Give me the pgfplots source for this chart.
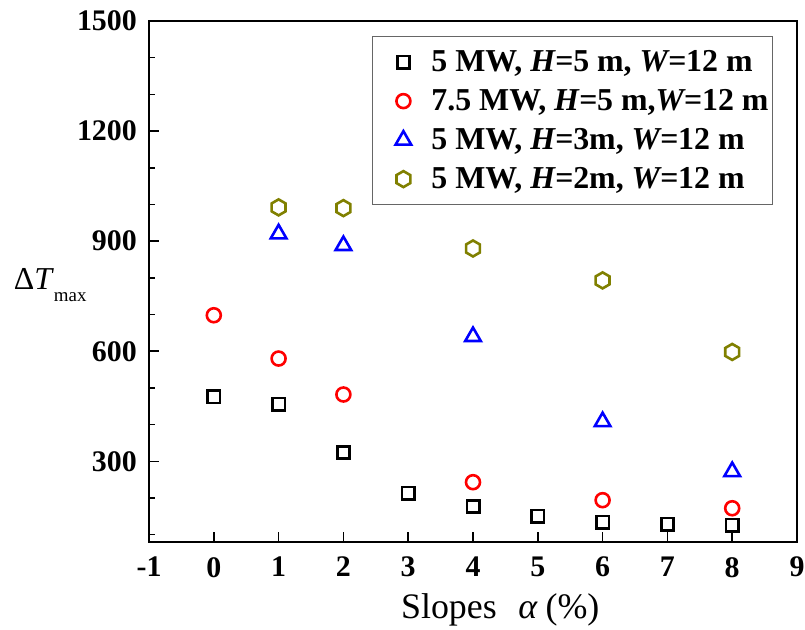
\documentclass[border=0pt]{standalone}
\usepackage{fontspec}
\setmainfont{Liberation Serif}
\usepackage{pgfplots}
\pgfplotsset{compat=1.18}
\usetikzlibrary{plotmarks}

\definecolor{olivemk}{RGB}{128,128,0}

% hexagon with a vertex at the top
\pgfdeclareplotmark{hexagon}{%
  \pgfpathmoveto{\pgfpointpolar{90}{\pgfplotmarksize}}%
  \pgfpathlineto{\pgfpointpolar{150}{\pgfplotmarksize}}%
  \pgfpathlineto{\pgfpointpolar{210}{\pgfplotmarksize}}%
  \pgfpathlineto{\pgfpointpolar{270}{\pgfplotmarksize}}%
  \pgfpathlineto{\pgfpointpolar{330}{\pgfplotmarksize}}%
  \pgfpathlineto{\pgfpointpolar{30}{\pgfplotmarksize}}%
  \pgfpathclose
  \pgfusepathqstroke
}

\begin{document}
\begin{tikzpicture}
\begin{axis}[
  name=ax,
  scale only axis,
  width=648bp, height=521bp,
  xmin=-1, xmax=9, ymin=80, ymax=1500,
  xtick={-1,0,...,9},
  xticklabels={-1,0,1,2,3,4,5,6,7,8,9},
  ytick={300,600,900,1200,1500},
  yticklabels={300,600,900,1200,1500},
  minor ytick={100,200,400,500,700,800,1000,1100,1300,1400},
  tick pos=left, tick align=inside,
  major tick length=10bp, minor tick length=6bp,
  every tick/.style={black, line width=1.5bp},
  axis line style={line width=2bp},
  ticklabel style={font=\fontsize{30}{30}\selectfont\bfseries, inner sep=0pt},
  xticklabel style={anchor=north, yshift=-15bp},
  yticklabel style={anchor=east, xshift=-12bp},
  xlabel={Slopes\hspace{0.6em}\textit{α}\hspace{0.22em}(\%)},
  xlabel style={font=\fontsize{36}{36}\selectfont, anchor=base,
    at={(axis description cs:0.542,0)}, yshift=-76bp},
  ylabel={Δ\textit{T}\raisebox{-12bp}{\fontsize{19}{19}\selectfont max}},
  ylabel style={font=\fontsize{32}{32}\selectfont, rotate=-90, anchor=base west,
    at={(axis description cs:-0.214,0.485)}},
  legend cell align=left,
  legend style={
    at={(axis description cs:0.344,0.971)}, anchor=north west,
    draw=black!60, line width=1bp,
    inner xsep=4bp, inner ysep=6bp,
    font=\fontsize{32}{32}\selectfont\bfseries,
    nodes={inner sep=0pt, text height=29bp, text depth=10bp},
    row sep=0pt, column sep=0pt,
  },
  legend image code/.code={
    \path[draw=none, fill=none] (0bp,-2bp) rectangle (55bp,2bp);
    \draw[#1] plot coordinates {(27bp,0bp)};
  },
]

% 5 MW, H = 5 m
\addplot[only marks, black, mark=square, mark size=6.2bp,
  mark options={solid, line width=2.6bp}]
  coordinates {(0,476) (1,456) (2,324) (3,213) (4,177) (5,150) (6,134) (7,129) (8,126)};
\addlegendentry{5 MW, \textit{H=}5 m, \textit{W=}12 m}

% 7.5 MW, H = 5 m
\addplot[only marks, red, mark=o, mark size=7bp,
  mark options={solid, line width=2.6bp}]
  coordinates {(0,698) (1,580) (2,482) (4,243) (6,194) (8,172)};
\addlegendentry{7.5 MW, \textit{H=}5 m,\textit{W=}12 m}

% 5 MW, H = 3 m
\addplot[only marks, blue, mark=triangle, mark size=9bp,
  mark options={solid, line width=2.6bp}]
  coordinates {(1,920) (2,888) (4,640) (6,408) (8,272)};
\addlegendentry{5 MW, \textit{H=}3m, \textit{W=}12 m}

% 5 MW, H = 2 m
\addplot[only marks, olivemk, mark=hexagon, mark size=8bp,
  mark options={solid, line width=2.6bp}]
  coordinates {(1,992) (2,990) (4,880) (6,793) (8,598)};
\addlegendentry{5 MW, \textit{H=}2m, \textit{W=}12 m}

\end{axis}
\pgfresetboundingbox
\path[use as bounding box] ([shift={(-149bp,-88bp)}]ax.south west) rectangle ++(805bp,630bp);
\end{tikzpicture}
\end{document}
